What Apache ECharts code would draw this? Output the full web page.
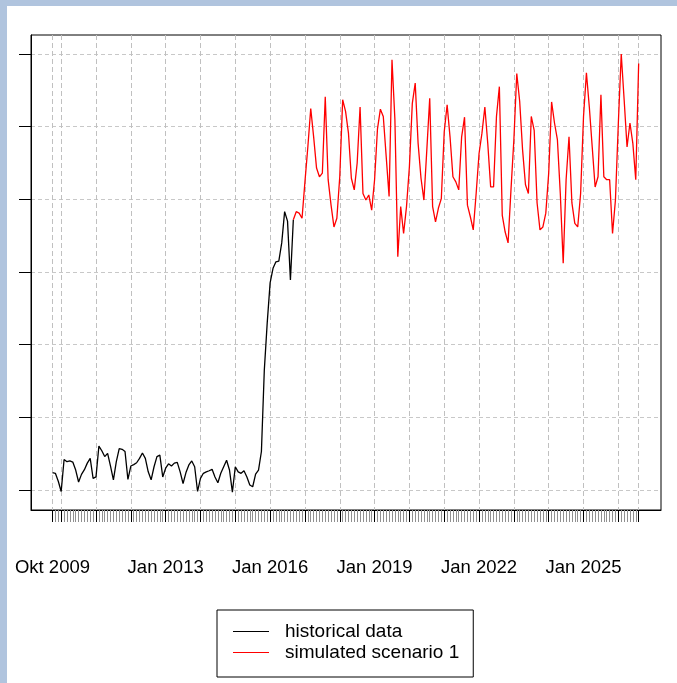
<!DOCTYPE html>
<html><head><meta charset="utf-8">
<script src="https://cdn.jsdelivr.net/npm/echarts@6/dist/echarts.min.js"></script>
<style>
html,body{margin:0;padding:0;width:677px;height:683px;background:#b0c4de;overflow:hidden}
#chart{position:absolute;left:7px;top:6px;width:670px;height:677px;background:#fff}
</style></head><body><div id="chart"></div>
<script>
// month index 0 = Okt 2009 (monthly series)
const historical = [
  0.24,0.23,0.12,-0.02,0.42,0.39,0.40,0.385,0.275,0.11,
  0.215,0.28,0.37,0.435,0.16,0.18,0.605,0.54,0.46,0.505,
  0.33,0.14,0.39,0.57,0.56,0.53,0.145,0.33,0.35,0.375,
  0.435,0.51,0.435,0.25,0.14,0.32,0.46,0.48,0.18,0.30,
  0.36,0.33,0.37,0.38,0.25,0.09,0.24,0.345,0.40,0.32,
  -0.02,0.16,0.23,0.25,0.265,0.285,0.18,0.10,0.23,0.32,
  0.41,0.275,-0.03,0.32,0.25,0.23,0.265,0.18,0.07,0.045,
  0.22,0.275,0.53,1.65,2.3,2.85,3.05,3.14,3.15,3.4,
  3.83,3.7,2.89,3.72
];
const simStartMonth = 83;
const simulated = [
  3.72,3.83,3.81,3.74,4.24,4.72,5.25,4.86,4.43,4.31,
  4.36,5.41,4.27,3.92,3.62,3.74,4.31,5.37,5.21,4.91,
  4.29,4.13,4.50,5.27,4.08,3.99,4.06,3.85,4.27,4.97,
  5.24,5.14,4.59,4.04,5.92,5.10,3.21,3.90,3.53,3.90,
  4.45,5.32,5.60,4.77,4.29,3.99,4.68,5.39,3.90,3.69,
  3.88,4.01,4.93,5.30,4.86,4.31,4.24,4.13,4.86,5.13,
  3.92,3.76,3.58,4.08,4.63,4.91,5.27,4.77,4.17,4.17,
  5.14,5.55,3.78,3.55,3.40,4.13,4.82,5.73,5.35,4.68,
  4.20,4.08,5.14,4.95,3.95,3.58,3.62,3.81,4.36,5.34,
  5.05,4.82,4.08,3.12,4.27,4.86,3.95,3.67,3.62,4.08,
  5.14,5.74,5.27,4.72,4.17,4.31,5.44,4.31,4.27,4.27,
  3.53,3.99,5.05,6.00,5.37,4.72,5.05,4.77,4.27,5.87
];
const tickLabels = ['Okt 2009','Jan 2013','Jan 2016','Jan 2019','Jan 2022','Jan 2025'];
const tickLabelMonths = [0,39,75,111,147,183];
const yTicks = [0,1,2,3,4,5,6];
const seriesNames = ['historical data','simulated scenario 1'];

const lastMonth = simStartMonth + simulated.length - 1;
const majorMonths = [0];
for (let m = 3; m <= lastMonth; m += 12) majorMonths.push(m);
majorMonths.push(lastMonth);
const minorMonths = [];
for (let m = 0; m <= lastMonth; m++) if (majorMonths.indexOf(m) < 0) minorMonths.push(m);

const histData = historical.map((v, i) => [i, v]);
const simData = simulated.map((v, i) => [simStartMonth + i, v]);

const xMin = -7.4, xMax = 209.7;
const font = 'Liberation Sans, Arial, sans-serif';
const chart = echarts.init(document.getElementById('chart'), null, {renderer: 'canvas'});
chart.setOption({
  animation: false,
  backgroundColor: '#fff',
  grid: {left: 24, right: 16, top: 29, bottom: 173, show: true, borderColor: '#000', borderWidth: 1, containLabel: false},
  xAxis: [{
    type: 'value', min: xMin, max: xMax, position: 'bottom',
    axisLine: {show: true, onZero: false, lineStyle: {color: '#000', width: 1}},
    axisTick: {show: true, customValues: majorMonths, length: 12, lineStyle: {color: '#000', width: 1}},
    axisLabel: {show: true, customValues: tickLabelMonths, margin: 48, fontSize: 18.5, fontFamily: font, color: '#000',
      formatter: v => tickLabels[tickLabelMonths.indexOf(Math.round(v))] || ''},
    splitLine: {show: true, lineStyle: {type: [5, 3], color: '#c0c0c0', width: 1}}
  }, {
    type: 'value', min: xMin, max: xMax, position: 'bottom',
    axisLine: {show: false, onZero: false},
    axisTick: {show: true, customValues: minorMonths, length: 12, lineStyle: {color: '#909090', width: 1}},
    axisLabel: {show: false},
    splitLine: {show: false}
  }],
  yAxis: {
    type: 'value', min: -0.275, max: 6.261,
    axisLine: {show: true, onZero: false, lineStyle: {color: '#000', width: 1}},
    axisTick: {show: true, customValues: yTicks, length: 12, lineStyle: {color: '#000', width: 1}},
    axisLabel: {show: false},
    splitLine: {show: true, lineStyle: {type: [4, 3], color: '#c8c8c8', width: 1}}
  },
  legend: {
    left: 210, top: 604, orient: 'vertical',
    itemWidth: 36, itemHeight: 1, itemGap: 0, icon: 'rect',
    padding: [11, 14, 14, 16],
    borderColor: '#000', borderWidth: 1,
    textStyle: {fontSize: 19, fontFamily: font, color: '#000', lineHeight: 21, padding: [0, 0, 0, 11]},
    data: seriesNames
  },
  series: [{
    name: seriesNames[0], type: 'line', xAxisIndex: 0, data: histData, showSymbol: false, symbol: 'none',
    lineStyle: {color: '#000', width: 1.3}, itemStyle: {color: '#000'}
  }, {
    name: seriesNames[1], type: 'line', xAxisIndex: 0, data: simData, showSymbol: false, symbol: 'none',
    lineStyle: {color: '#ff0000', width: 1.3}, itemStyle: {color: '#ff0000'}
  }]
});
</script></body></html>
